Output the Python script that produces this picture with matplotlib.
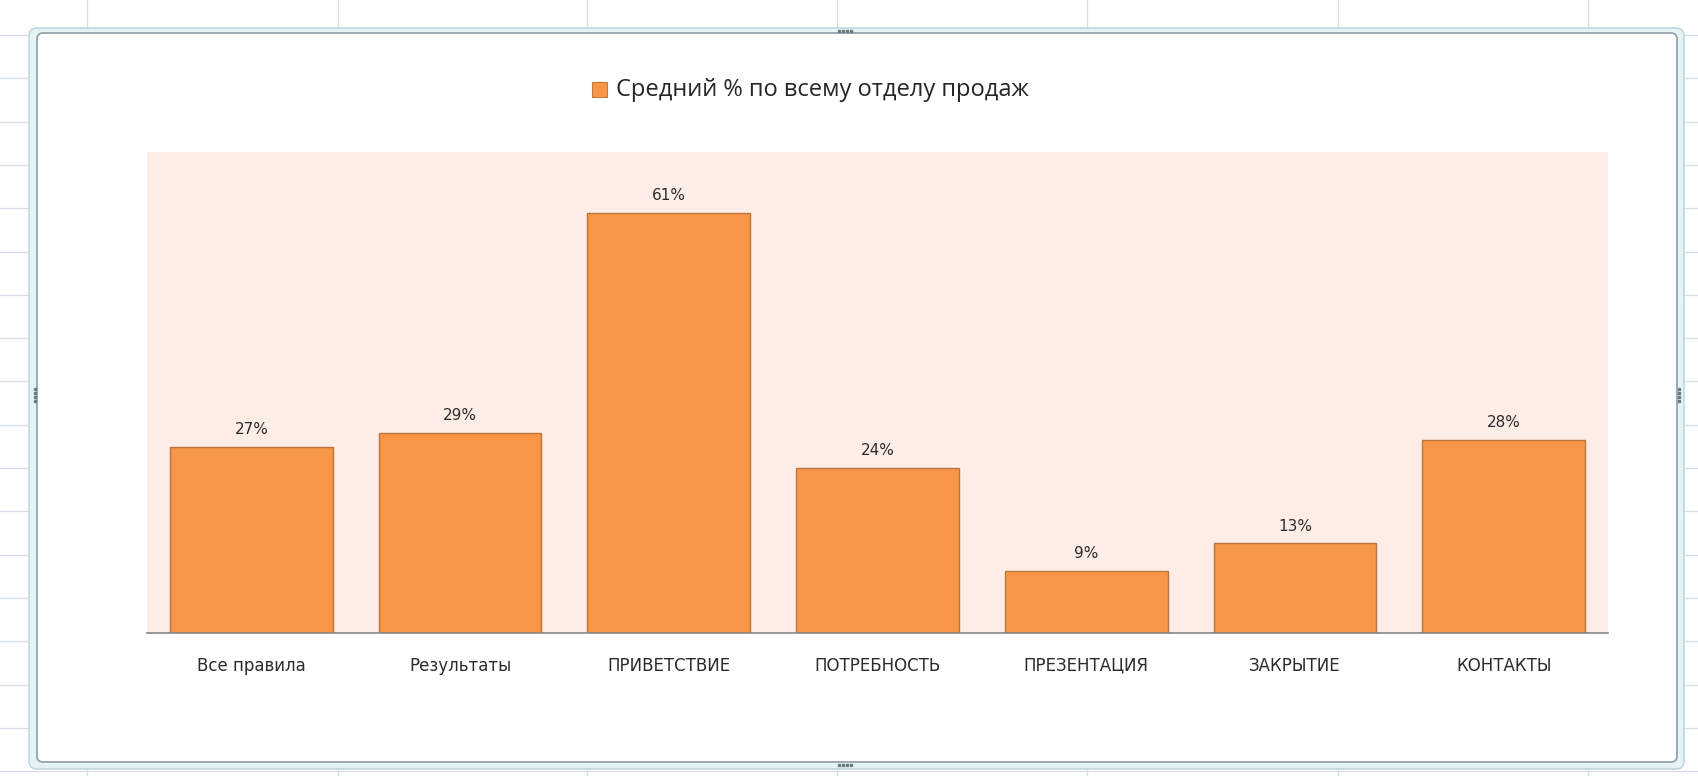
import matplotlib.pyplot as plt
from matplotlib.lines import Line2D
from matplotlib.patches import FancyBboxPatch, Rectangle

# Average score per stage, %
categories = ["Все правила", "Результаты", "ПРИВЕТСТВИЕ", "ПОТРЕБНОСТЬ",
              "ПРЕЗЕНТАЦИЯ", "ЗАКРЫТИЕ", "КОНТАКТЫ"]
values = [27, 29, 61, 24, 9, 13, 28]
series_name = "Средний % по всему отделу продаж"

W, H = 1698, 776
fig = plt.figure(figsize=(W / 100, H / 100), dpi=100)

# sheet background with cell grid and the chart frame
bg = fig.add_axes([0, 0, 1, 1], zorder=0)
bg.set_xlim(0, W)
bg.set_ylim(H, 0)
bg.axis("off")
grid_c = "#d9dfe9"
for gx in [87, 338, 587, 837, 1087, 1338, 1588]:
    bg.add_line(Line2D([gx, gx], [0, H], color=grid_c, lw=1, zorder=0))
for k in range(18):
    gy = 35 + 43.3 * k
    bg.add_line(Line2D([0, W], [gy, gy], color=grid_c, lw=1, zorder=0))

bg.add_patch(FancyBboxPatch((29, 28), 1655, 741, boxstyle="round,pad=0,rounding_size=8",
                            facecolor="#e4f3f6", edgecolor="#b9d3dc", lw=1, zorder=1))
bg.add_patch(FancyBboxPatch((37, 33), 1640, 729, boxstyle="round,pad=0,rounding_size=6",
                            facecolor="white", edgecolor="#8f9da3", lw=1.2, zorder=2))
# resize handles on the frame
for hx, hy in [(845, 31), (845, 765)]:
    bg.plot([hx - 6, hx - 2, hx + 2, hx + 6], [hy] * 4, ls="none", marker="s",
            ms=1.6, color="#6d7b80", zorder=3)
for hx, hy in [(35, 395), (1679, 395)]:
    bg.plot([hx] * 4, [hy - 6, hy - 2, hy + 2, hy + 6], ls="none", marker="s",
            ms=1.6, color="#6d7b80", zorder=3)

# legend above the plot area
bg.add_patch(Rectangle((592, 82), 15, 15, facecolor="#f79646", edgecolor="#c0783c",
                       lw=0.8, zorder=3))
bg.text(616, 90, series_name, fontsize=17, family="Open Sans", color="#262626",
        va="center", ha="left", zorder=3)

# bar plot
ax = fig.add_axes([147 / W, 1 - 633 / H, 1461 / W, 481 / H], zorder=1)
ax.set_facecolor("#fdede6")
x = range(len(categories))
bars = ax.bar(x, values, width=0.78, color="#f79646", edgecolor="#b9773f", linewidth=1)
ax.set_xlim(-0.5, len(categories) - 0.5)
ax.set_ylim(0, 69.8)

for rect, v in zip(bars, values):
    ax.annotate(f"{v}%", (rect.get_x() + rect.get_width() / 2, v),
                xytext=(0, 7), textcoords="offset points", ha="center", va="bottom",
                fontsize=11, color="#2b2b2b")

ax.set_xticks(list(x))
ax.set_xticklabels(categories, fontsize=12, color="#2b2b2b")
ax.tick_params(axis="x", length=0, pad=17)
ax.set_yticks([])
for side in ["top", "left", "right"]:
    ax.spines[side].set_visible(False)
ax.spines["bottom"].set_color("#868686")
ax.spines["bottom"].set_linewidth(1.2)

fig.savefig("out.png", dpi=100)
